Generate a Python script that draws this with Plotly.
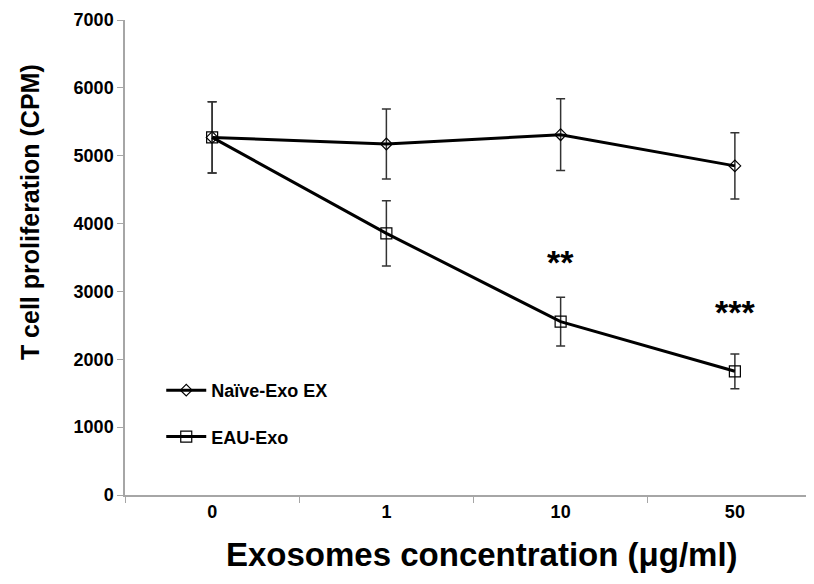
import plotly.graph_objects as go

categories = ["0", "1", "10", "50"]
naive_vals = [5270, 5172, 5310, 4850]
naive_err = [525, 515, 528, 487]
eau_vals = [5270, 3856, 2555, 1823]
eau_err = [525, 480, 360, 256]
star_labels = ["", "", "**", "***"]
star_y = [None, None, 3440, 2690]
y_ticks = [0, 1000, 2000, 3000, 4000, 5000, 6000, 7000]

FONT = "Liberation Sans, Arial, sans-serif"
fig = go.Figure()
fig.add_trace(go.Scatter(
    x=categories, y=naive_vals, name="<b>Naïve-Exo EX</b>", mode="lines+markers",
    line=dict(color="black", width=3),
    marker=dict(symbol="diamond-open", size=9, color="black", line=dict(width=1.2)),
    error_y=dict(type="data", array=naive_err, color="#333333", thickness=1.5, width=4.5),
    legendgroup="a"))
fig.add_trace(go.Scatter(
    x=categories, y=eau_vals, name="<b>EAU-Exo</b>", mode="lines+markers",
    line=dict(color="black", width=3),
    marker=dict(symbol="square-open", size=11, color="black", line=dict(width=1.2)),
    error_y=dict(type="data", array=eau_err, color="#333333", thickness=1.5, width=4.5),
    legendgroup="b"))

for i, (s, yv) in enumerate(zip(star_labels, star_y)):
    if s:
        fig.add_annotation(x=i, y=yv, xref="x", yref="y", text="<b>" + s + "</b>",
                           showarrow=False,
                           font=dict(family=FONT, size=34, color="black"))

# axis titles placed as annotations to match the reference placement
fig.add_annotation(xref="paper", yref="paper", x=-0.136, y=0.596,
                   text="<b>T cell proliferation (CPM)</b>", textangle=-90,
                   showarrow=False, xanchor="center", yanchor="middle",
                   font=dict(family=FONT, size=25, color="black"))
fig.add_annotation(xref="paper", yref="paper", x=0.512, y=-0.126,
                   text="<b>Exosomes concentration (μg/ml)</b>",
                   showarrow=False, xanchor="center", yanchor="middle",
                   font=dict(family=FONT, size=33, color="black"))

fig.update_layout(
    width=814, height=584,
    margin=dict(l=117, r=0, t=12, b=97),
    plot_bgcolor="white", paper_bgcolor="white",
    font=dict(family=FONT, color="black"),
    showlegend=True,
    legend=dict(x=0.052, y=0.259, xanchor="left", yanchor="top",
                font=dict(family=FONT, size=18, color="black"),
                tracegroupgap=20, bgcolor="rgba(0,0,0,0)", itemwidth=40),
    xaxis=dict(type="category", range=[-0.5, 3.5], tickson="boundaries",
               automargin=False,
               tickvals=categories, ticktext=["<b>" + c + "</b>" for c in categories],
               showline=True, linecolor="#a6a6a6", linewidth=1.5,
               ticks="outside", tickcolor="#a6a6a6", ticklen=6,
               showgrid=False, zeroline=False,
               tickfont=dict(family=FONT, size=18, color="black")),
    yaxis=dict(range=[0, 7000], tickvals=y_ticks,
               ticktext=["<b>%d</b>" % v for v in y_ticks],
               automargin=False,
               showline=True, linecolor="#a6a6a6",
               linewidth=1.5, ticks="outside", tickcolor="#a6a6a6", ticklen=6,
               showgrid=False, zeroline=False,
               tickfont=dict(family=FONT, size=18, color="black")),
)
fig.write_html("out.html")
